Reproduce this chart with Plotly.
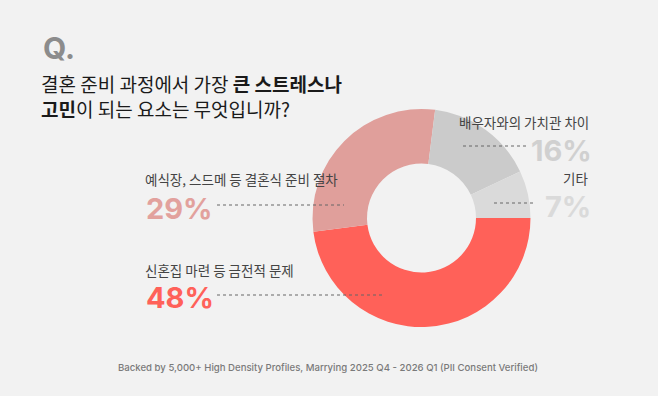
import plotly.graph_objects as go

W, H = 658, 396

categories = ["신혼집 마련 등 금전적 문제", "예식장, 스드메 등 결혼식 준비 절차", "배우자와의 가치관 차이", "기타"]
values = [48, 29, 16, 7]
slice_colors = ["#FF6159", "#E09F9B", "#CBCBCB", "#DADADA"]
pct_colors = ["#FF6159", "#E2A19D", "#D0D0D0", "#DADADA"]

title_lines = ["결혼 준비 과정에서 가장 <b>큰 스트레스나</b>", "<b>고민</b>이 되는 요소는 무엇입니까?"]
footer = "Backed by 5,000+ High Density Profiles, Marrying 2025 Q4 - 2026 Q1 (PII Consent Verified)"

BG = "#F2F2F2"
KFONT = "Noto Sans CJK KR"

def px(x):
    return x / W

def py(y):
    return 1 - y / H

# donut geometry (pixels)
cx, cy, R = 421.5, 218, 109

fig = go.Figure()
fig.add_trace(go.Pie(
    labels=categories,
    values=values,
    marker=dict(colors=slice_colors, line=dict(width=0)),
    hole=0.5,
    sort=False,
    direction="clockwise",
    rotation=90,
    textinfo="none",
    hoverinfo="label+percent",
    showlegend=False,
    domain=dict(x=[px(cx - R), px(cx + R)], y=[py(cy + R), py(cy - R)]),
))

annotations = []
shapes = []

# Q.
annotations.append(dict(x=px(41), y=py(48), text="<b>Q.</b>", showarrow=False,
                        xanchor="left", yanchor="middle",
                        font=dict(family="Inter, " + KFONT, size=30, color="#8C8C8C")))
# title
annotations.append(dict(x=px(39), y=py(96), text="<br>".join(title_lines),
                        showarrow=False, xanchor="left", yanchor="middle", align="left",
                        font=dict(family=KFONT, size=19, color="#1A1A1A")))

# label layout: (label x, label y, anchor, pct y, line x0, line x1, line y)
layout_spec = [
    (143, 270, "left", 297, 217, 383, 295),
    (143, 179, "left", 208, 217, 344, 205),
    (591, 122, "right", 151, 463, 527, 146),
    (590, 178, "right", 206, 494, 533, 203),
]

for cat, val, pc, spec in zip(categories, values, pct_colors, layout_spec):
    lx, ly, anc, pyy, x0, x1, yl = spec
    annotations.append(dict(x=px(lx), y=py(ly), text=cat, showarrow=False,
                            xanchor=anc, yanchor="middle",
                            font=dict(family=KFONT, size=13.5, color="#444444")))
    annotations.append(dict(x=px(lx + (1 if anc == "left" else 3)), y=py(pyy), text=f"<b>{val}%</b>",
                            showarrow=False, xanchor=anc, yanchor="middle",
                            font=dict(family="Inter, " + KFONT, size=29, color=pc)))
    shapes.append(dict(type="line", xref="paper", yref="paper",
                       x0=px(x0), x1=px(x1), y0=py(yl), y1=py(yl),
                       line=dict(color="#666666", width=1, dash="dot")))

# footer
annotations.append(dict(x=px(328), y=py(367), text=footer,
                        showarrow=False, xanchor="center", yanchor="middle",
                        font=dict(family="Inter, " + KFONT, size=9.6, color="#7A7A7A", weight=500)))

fig.update_layout(
    width=W, height=H,
    margin=dict(l=0, r=0, t=0, b=0),
    paper_bgcolor=BG, plot_bgcolor=BG,
    annotations=annotations,
    shapes=shapes,
)

fig.write_html("out.html",
               config={"displayModeBar": False},
               post_script="document.body.style.margin='0';document.body.style.padding='0';document.body.style.background='#F2F2F2';document.body.style.overflow='hidden';")
